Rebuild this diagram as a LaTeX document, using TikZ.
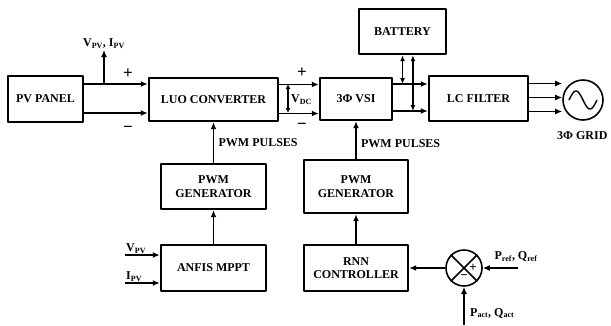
\documentclass[tikz,border=0pt]{standalone}
\usepackage{fontspec}
\setmainfont{Liberation Serif}
\usetikzlibrary{arrows.meta}
\definecolor{pagebg}{HTML}{FFFFFF}
\definecolor{ink}{HTML}{000000}

\begin{document}
\begin{tikzpicture}[
  x=1pt,
  y=-1pt,
  font=\bfseries\fontsize{12}{13.5}\selectfont,
  line join=round,
  >={Latex[length=7pt,width=6pt]},
  block/.style={draw=ink, line width=2.4pt, inner sep=1pt, align=center, text=ink},
  wire/.style={draw=ink, line width=1.6pt},
  junction/.style={circle, draw=ink, line width=1.6pt, inner sep=0pt},
  sign/.style={font=\bfseries\fontsize{17}{17}\selectfont, inner sep=0pt}
]
  \fill[pagebg] (0,0) rectangle (611,325);
  \useasboundingbox (0,0) rectangle (611,325);

  % power path
  \node[block, minimum width=75pt, minimum height=46pt] (pv) at (45.5,99) {PV PANEL};
  \node[block, minimum width=129pt, minimum height=43pt] (luo) at (213.5,99.5) {LUO CONVERTER};
  \node[block, minimum width=72pt, minimum height=42pt] (vsi) at (356,99) {3Φ VSI};
  \node[block, minimum width=87pt, minimum height=45pt] (bat) at (402.5,31.5) {BATTERY};
  \node[block, minimum width=99pt, minimum height=45pt] (lc) at (478.5,98.5) {LC FILTER};
  \node[junction, minimum size=40pt] (grid) at (583,100) {};
  \node[anchor=north east] (gridlbl) at (611,128) {3Φ GRID};
  \begin{scope}[shift={(grid.center)}]
    \draw[ink, line width=1.4pt, smooth, variable=\t, domain=-14:14, samples=40]
      plot ({\t}, {9*sin(\t*360/28)});
  \end{scope}

  % control path
  \node[block, minimum width=105pt, minimum height=45pt] (pwma) at (213.5,186.5) {PWM\\GENERATOR};
  \node[block, minimum width=105pt, minimum height=46pt] (anfis) at (213.5,268) {ANFIS MPPT};
  \node[block, minimum width=104pt, minimum height=53pt] (pwmb) at (356,186.5) {PWM\\GENERATOR};
  \node[block, minimum width=104pt, minimum height=46pt] (rnn) at (356,268) {RNN\\CONTROLLER};
  \node[junction, minimum size=36pt] (sum) at (464,268) {};
  \draw[wire] (sum.45) -- (sum.225) (sum.135) -- (sum.315);
  \node[sign, font=\bfseries\fontsize{13}{13}\selectfont] at ([xshift=9pt]sum.center) {+};
  \node[sign, font=\bfseries\fontsize{13}{13}\selectfont] at ([yshift=-9pt]sum.center) {−};

  % dc links
  \draw[wire, ->] ([yshift=15pt]pv.east) -- ([yshift=15pt]pv.east -| luo.west);
  \draw[wire, ->] ([yshift=-14pt]pv.east) -- ([yshift=-14pt]pv.east -| luo.west);
  \node[sign] at (128,74) {+};
  \node[sign] at (128,129) {−};
  \coordinate (tap) at (104,84);
  \coordinate (meas) at (104,50);
  \draw[wire, ->] (tap) -- (meas) node[above, inner sep=1pt] {V\textsubscript{PV}, I\textsubscript{PV}};

  \draw[wire, ->] ([yshift=15pt]luo.east) -- ([yshift=15pt]luo.east -| vsi.west);
  \draw[wire, ->] ([yshift=-14pt]luo.east) -- ([yshift=-14pt]luo.east -| vsi.west);
  \coordinate (vdctop) at (288,84);
  \coordinate (vdcbot) at (288,113);
  \draw[wire, <->, >={Latex[length=5pt,width=5pt]}] (vdctop) -- (vdcbot);
  \node[anchor=west, inner sep=1pt] at (290,100) {V\textsubscript{DC}};
  \node[sign] at (302,73) {+};
  \node[sign] at (302,126) {−};

  \draw[wire, ->] ([yshift=15pt]vsi.east) -- ([yshift=15pt]vsi.east -| lc.west) coordinate[pos=0.27] (busa);
  \draw[wire, ->] ([yshift=-12pt]vsi.east) -- ([yshift=-12pt]vsi.east -| lc.west) coordinate[pos=0.57] (busb);
  \draw[wire, <->, >={Latex[length=6pt,width=5pt]}] (busa) -- (busa |- bat.south);
  \draw[wire, <->, >={Latex[length=6pt,width=5pt]}] (busb) -- (busb |- bat.south);

  \draw[wire, ->] ([yshift=15pt]lc.east) -- ([yshift=15pt]lc.east -| grid.west);
  \draw[wire, ->] ([yshift=1pt]lc.east) -- ([yshift=1pt]lc.east -| grid.west);
  \draw[wire, ->] ([yshift=-13pt]lc.east) -- ([yshift=-13pt]lc.east -| grid.west);

  % gate signals
  \draw[wire, ->] (pwma) -- (luo) node[pos=0.5, right, xshift=1pt] {PWM PULSES};
  \draw[wire, ->] (anfis) -- (pwma);
  \draw[wire, ->] (pwmb) -- (vsi) node[pos=0.4, right, xshift=1pt] {PWM PULSES};
  \draw[wire, ->] (rnn) -- (pwmb);

  % mppt inputs
  \coordinate (vin) at (125,255);
  \coordinate (iin) at (125,283);
  \draw[wire, ->] (vin) -- (vin -| anfis.west);
  \draw[wire, ->] (iin) -- (iin -| anfis.west);
  \node[anchor=south west, inner sep=1pt] at (vin) {V\textsubscript{PV}};
  \node[anchor=south west, inner sep=1pt] at (iin) {I\textsubscript{PV}};

  % power reference loop
  \coordinate (pref) at (518,268);
  \coordinate (pact) at (464,325);
  \draw[wire, ->] (pref) -- (sum.east);
  \draw[wire, ->] (pact) -- (sum.south);
  \draw[wire, ->] (sum.west) -- (rnn.east);
  \node[anchor=south, inner sep=1pt] at (516,263) {P\textsubscript{ref}, Q\textsubscript{ref}};
  \node[anchor=west, inner sep=1pt] at (469,313) {P\textsubscript{act}, Q\textsubscript{act}};
\end{tikzpicture}
\end{document}
